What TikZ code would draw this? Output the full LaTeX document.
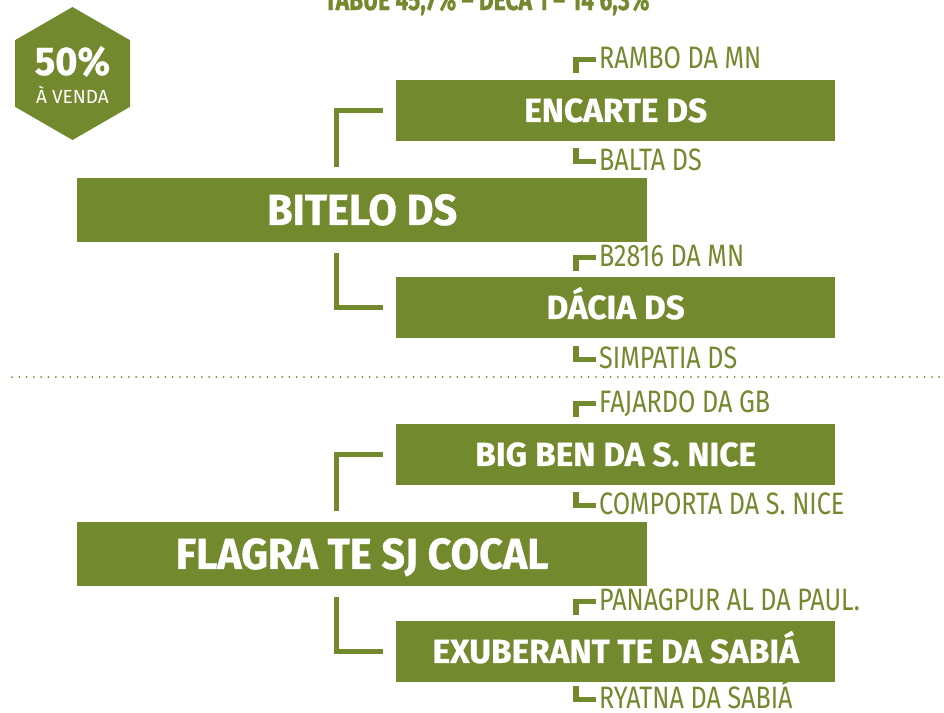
\documentclass[tikz,border=0pt]{standalone}
\usepackage{fontspec}
\setmainfont{Fira Sans}
\newfontfamily\boxfont[FakeStretch=0.95,FakeBold=0.8]{Fira Sans}
\newfontfamily\sboxfont[FakeBold=0.8]{Fira Sans}
\newfontfamily\titlefont[FakeStretch=0.76,FakeBold=0.8]{Fira Sans}
\newfontfamily\labfont[FakeStretch=0.81]{Fira Sans}
\newfontfamily\vendafont{Fira Sans}
\definecolor{leaf}{HTML}{73892D}
\tikzset{
  boxnode/.style={fill=leaf, text=white, font=\sboxfont\bfseries\fontsize{33.4}{34}\selectfont,
    inner sep=0pt, minimum width=439pt, minimum height=60.5pt, text height=23pt, text depth=0pt, anchor=north west},
  bigbox/.style={fill=leaf, text=white, font=\boxfont\bfseries\fontsize{43.5}{44}\selectfont,
    inner sep=0pt, minimum width=570pt, minimum height=63.5pt, text height=30pt, text depth=0pt, anchor=north west},
  lab/.style={text=leaf, font=\labfont\fontsize{31}{33}\selectfont, inner sep=0pt, anchor=base west},
  conn/.style={draw=leaf, line width=5pt, line join=miter},
  brk/.style={draw=leaf, line width=5.5pt, line join=miter},
}
\newcommand\topbrk[1]{\draw[brk] ([xshift=-23pt,yshift=-5pt]#1.base west) -- ++(0,-13.5) -- ++(20,0);}
\newcommand\botbrk[1]{\draw[brk] ([xshift=-23pt,yshift=22pt]#1.base west) -- ++(0,13.5) -- ++(20,0);}
\begin{document}
\begin{tikzpicture}[x=1pt,y=-1pt]
\useasboundingbox (0,0) rectangle (944,712);
\clip (0,0) rectangle (944,712);
% title (cut off at the top edge)
\node[text=leaf, font=\titlefont\bfseries\fontsize{30}{32}\selectfont, anchor=base, inner sep=0pt] (title) at (487,10) {TABUE 45,7\% – DECA 1 – 14 6,3\%};
% badge
\fill[leaf] (72.5,7) -- (130,40.2) -- (130,106.8) -- (72.5,140) -- (15,106.8) -- (15,40.2) -- cycle;
\node[text=white, font=\boxfont\bfseries\fontsize{40}{40}\selectfont, anchor=base, inner sep=0pt] (pct) at (72.5,75) {50\%};
\node[text=white, font=\vendafont\fontsize{19}{20}\selectfont, anchor=base, inner sep=0pt] (venda) at (72.5,103) {À VENDA};
% boxes
\node[boxnode] (encarte) at (396,80) {ENCARTE DS};
\node[bigbox] (bitelo) at (77,178) {BITELO DS};
\node[boxnode] (dacia) at (396,277) {DÁCIA DS};
\node[boxnode] (bigben) at (396,424) {BIG BEN DA S. NICE};
\node[bigbox] (flagra) at (77,522) {FLAGRA TE SJ COCAL};
\node[boxnode] (exub) at (396,621) {EXUBERANT TE DA SABIÁ};
% labels
\node[lab] (rambo) at (599,68) {RAMBO DA MN};
\node[lab] (balta) at (599,170) {BALTA DS};
\node[lab] (b2816) at (599,266) {B2816 DA MN};
\node[lab] (simp) at (599,368) {SIMPATIA DS};
\node[lab] (faj) at (599,412) {FAJARDO DA GB};
\node[lab] (comp) at (599,514) {COMPORTA DA S. NICE};
\node[lab] (pan) at (599,610) {PANAGPUR AL DA PAUL.};
\node[lab] (ryat) at (599,708) {RYATNA DA SABIÁ};
\topbrk{rambo}\botbrk{balta}\topbrk{b2816}\botbrk{simp}
\topbrk{faj}\botbrk{comp}\topbrk{pan}\botbrk{ryat}
% connectors
\coordinate (cx) at (336.5,0);
\draw[conn] (bitelo.north -| cx) ++(0,-11) |- ([xshift=-13pt]encarte.west);
\draw[conn] (bitelo.south -| cx) ++(0,11) |- ([xshift=-13pt]dacia.west);
\draw[conn] (flagra.north -| cx) ++(0,-11) |- ([xshift=-13pt]bigben.west);
\draw[conn] (flagra.south -| cx) ++(0,11) |- ([xshift=-13pt]exub.west);
% separator
\draw[leaf, line width=2pt, line cap=round, dash pattern=on 0pt off 7.3pt] (12,377) -- (944,377);
\end{tikzpicture}
\end{document}
